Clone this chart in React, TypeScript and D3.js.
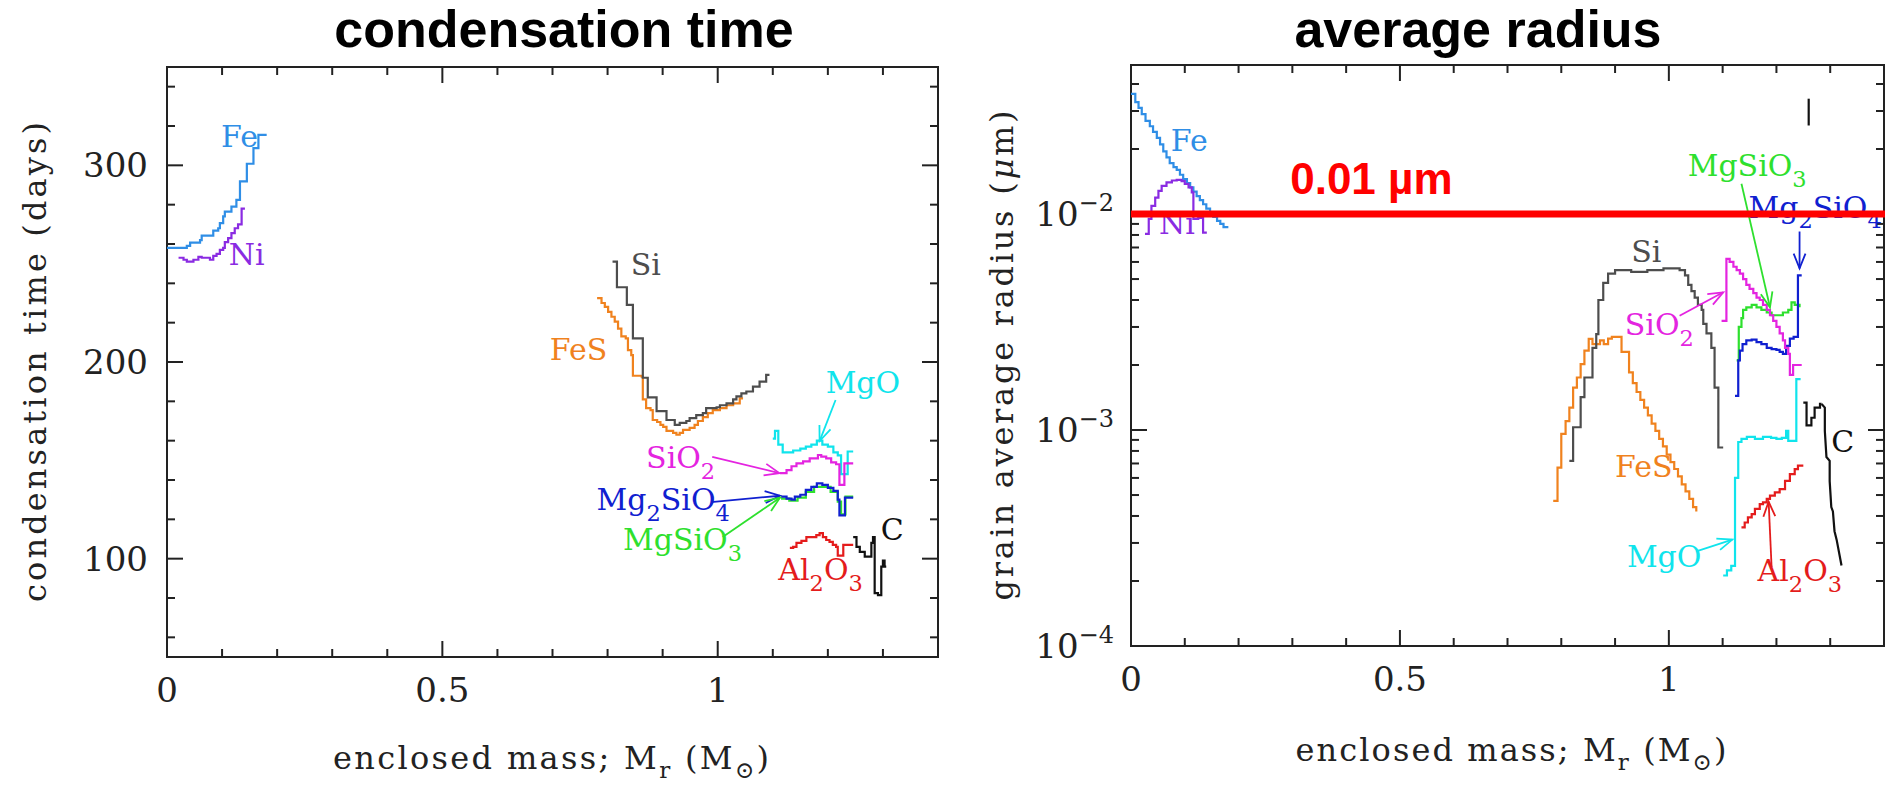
import React, { useEffect } from "react";
import * as d3 from "d3";

const W = 1885;
const H = 786;

// ---------- axes ----------
const massDomain = [0, 1.4];
const timeDomain = [50, 350];
const radiusDomain = [1e-4, 0.04898];
const massTicks = d3.range(0, 15).map((i) => i / 10);
const massMajor = [0, 0.5, 1];
const massTickLabels = ["0", "0.5", "1"];
const timeTicks = d3.range(60, 341, 20);
const timeMajor = [100, 200, 300];
const timeTickLabels = ["100", "200", "300"];
const radiusMajor = [1e-4, 1e-3, 1e-2];
const radiusExpLabels = ["\u22124", "\u22123", "\u22122"];

// ---------- condensation time (days) vs enclosed mass (Msun) ----------
const feTimeM = [0, 0.036, 0.042, 0.06, 0.063, 0.084, 0.093, 0.096, 0.102, 0.105, 0.117, 0.126, 0.1325, 0.145, 0.157, 0.166, 0.181];
const feTimeDays = [258, 259, 260.7, 262, 264.3, 266.8, 268, 270.6, 274, 276.5, 279, 282.4, 291.8, 300.8, 308.7, 315.5, 315.5];
const niTimeM = [0.021, 0.03, 0.036, 0.048, 0.057, 0.063, 0.078, 0.084, 0.09, 0.096, 0.102, 0.105, 0.111, 0.117, 0.123, 0.129, 0.1355, 0.1415];
const niTimeDays = [253, 252, 251, 252, 253.5, 253, 252, 254, 255, 257, 258, 261, 263, 265.5, 268, 270, 278, 278];
const siTimeM = [0.809, 0.817, 0.835, 0.846, 0.864, 0.873, 0.889, 0.907, 0.922, 0.931, 0.943, 0.949, 0.961, 0.973, 0.979, 0.998, 1.004, 1.016, 1.028, 1.034, 1.043, 1.052, 1.064, 1.076, 1.088, 1.094];
const siTimeDays = [251, 238, 229, 212, 192, 182, 175, 170.5, 168, 169, 170, 171.5, 173, 174, 176.5, 177, 178, 179, 181, 182.5, 184, 185, 187.5, 190, 193.5, 193.5];
const fesTimeM = [0.781, 0.789, 0.795, 0.801, 0.807, 0.813, 0.819, 0.825, 0.833, 0.837, 0.843, 0.846, 0.862, 0.864, 0.87, 0.878, 0.882, 0.89, 0.896, 0.901, 0.907, 0.919, 0.925, 0.931, 0.937, 0.949, 0.958, 0.964, 0.973, 0.982, 0.991, 1.004, 1.016, 1.028, 1.04, 1.046];
const fesTimeDays = [232.5, 230, 228, 225.5, 223, 220.5, 217, 213, 212, 206, 203.5, 193, 192.5, 181, 176.5, 175.5, 170.5, 169.5, 168, 167, 165, 164, 163, 164, 165.5, 166.5, 168, 170, 172, 174, 175.5, 176.5, 178, 179, 181.5, 181.5];
const mgoTimeM = [1.1, 1.104, 1.11, 1.118, 1.137, 1.15, 1.16, 1.17, 1.18, 1.19, 1.2, 1.21, 1.218, 1.224, 1.232, 1.236, 1.246];
const mgoTimeDays = [161, 165, 158, 154, 155, 156, 157, 158, 160, 158, 157, 154, 152.5, 143, 143, 154.5, 154.5];
const sio2TimeM = [1.113, 1.125, 1.134, 1.143, 1.155, 1.167, 1.182, 1.188, 1.197, 1.206, 1.215, 1.221, 1.23, 1.246];
const sio2TimeDays = [143.5, 145, 147, 148.5, 149.5, 151, 152.7, 151.9, 151, 149, 148, 137.5, 148.5, 148.5];
const mgsio3TimeM = [1.115, 1.13, 1.145, 1.16, 1.175, 1.19, 1.205, 1.218, 1.224, 1.232, 1.246];
const mgsio3TimeDays = [130.5, 129.5, 131, 134, 136.5, 136.5, 134, 129, 122.5, 131.5, 131.5];
const mg2sio4TimeM = [1.115, 1.125, 1.134, 1.14, 1.15, 1.16, 1.17, 1.18, 1.19, 1.2, 1.21, 1.218, 1.221, 1.231, 1.246];
const mg2sio4TimeDays = [131.5, 130.5, 130, 131.5, 132.5, 135, 136.5, 138.3, 137.5, 136, 134.5, 130, 122, 131, 131];
const al2o3TimeM = [1.131, 1.137, 1.143, 1.152, 1.161, 1.173, 1.179, 1.185, 1.191, 1.197, 1.203, 1.209, 1.215, 1.218, 1.228, 1.246];
const al2o3TimeDays = [105.5, 106, 108, 109, 111, 111, 112, 113, 111, 109.5, 108.5, 107, 106, 101.5, 107, 107];
const cTimeM = [1.246, 1.252, 1.258, 1.267, 1.279, 1.282, 1.285, 1.291, 1.297, 1.3, 1.303, 1.306];
const cTimeDays = [111, 106, 103.5, 101, 108, 111, 82.5, 81.5, 96, 99, 96, 96];

// ---------- grain average radius (micron) vs enclosed mass ----------
const feRadM = [0, 0.008, 0.014, 0.02, 0.027, 0.035, 0.041, 0.048, 0.054, 0.06, 0.066, 0.072, 0.079, 0.085, 0.091, 0.097, 0.104, 0.11, 0.116, 0.122, 0.128, 0.134, 0.14, 0.147, 0.153, 0.16, 0.166, 0.172, 0.181];
const feRadUm = [0.036, 0.033, 0.031, 0.029, 0.027, 0.0255, 0.024, 0.0225, 0.021, 0.0195, 0.0183, 0.0172, 0.0165, 0.016, 0.0152, 0.0145, 0.0139, 0.0133, 0.0127, 0.0121, 0.0116, 0.0111, 0.0106, 0.0101, 0.0097, 0.0093, 0.009, 0.0087, 0.0087];
const niRadM = [0.026, 0.033, 0.038, 0.045, 0.051, 0.057, 0.066, 0.076, 0.085, 0.094, 0.1, 0.107, 0.113, 0.116, 0.125, 0.134, 0.141];
const niRadUm = [0.0081, 0.0095, 0.0109, 0.0119, 0.0128, 0.0135, 0.014, 0.0143, 0.0144, 0.0142, 0.0138, 0.0133, 0.0126, 0.0095, 0.0096, 0.0082, 0.0082];
const siRadM = [0.815, 0.822, 0.836, 0.843, 0.858, 0.865, 0.869, 0.878, 0.887, 0.9, 0.93, 0.96, 0.99, 1.02, 1.03, 1.036, 1.042, 1.048, 1.054, 1.061, 1.064, 1.07, 1.079, 1.085, 1.092, 1.101];
const siRadUm = [0.00072, 0.00103, 0.00142, 0.00175, 0.0024, 0.00278, 0.004, 0.0048, 0.0053, 0.0055, 0.0054, 0.0055, 0.0056, 0.0055, 0.0052, 0.0047, 0.0044, 0.0041, 0.0038, 0.0036, 0.0031, 0.0028, 0.0024, 0.00157, 0.00083, 0.00083];
const fesRadM = [0.785, 0.793, 0.8, 0.808, 0.815, 0.822, 0.829, 0.836, 0.843, 0.851, 0.858, 0.866, 0.872, 0.879, 0.887, 0.894, 0.912, 0.926, 0.933, 0.94, 0.947, 0.954, 0.961, 0.968, 0.975, 0.982, 0.989, 0.996, 1.003, 1.01, 1.017, 1.024, 1.031, 1.038, 1.045, 1.051];
const fesRadUm = [0.00047, 0.00067, 0.00096, 0.0011, 0.00127, 0.00157, 0.00175, 0.00202, 0.00233, 0.00264, 0.0025, 0.0025, 0.0026, 0.0025, 0.00265, 0.0027, 0.0023, 0.00185, 0.00165, 0.0015, 0.00138, 0.00127, 0.00117, 0.00107, 0.00099, 0.00091, 0.00084, 0.00077, 0.00071, 0.00066, 0.00061, 0.00056, 0.00052, 0.00048, 0.00044, 0.00042];
const sio2RadM = [1.098, 1.107, 1.113, 1.12, 1.126, 1.132, 1.138, 1.144, 1.15, 1.157, 1.163, 1.169, 1.175, 1.182, 1.188, 1.194, 1.2, 1.206, 1.212, 1.216, 1.222, 1.225, 1.231, 1.247];
const sio2RadUm = [0.0032, 0.0062, 0.006, 0.0057, 0.0055, 0.0053, 0.005, 0.0047, 0.0045, 0.0043, 0.0041, 0.004, 0.0038, 0.0036, 0.0034, 0.0032, 0.003, 0.0028, 0.0026, 0.0024, 0.00225, 0.0018, 0.002, 0.002];
const mgsio3RadM = [1.126, 1.13, 1.135, 1.138, 1.144, 1.154, 1.163, 1.172, 1.182, 1.191, 1.2, 1.212, 1.222, 1.228, 1.234, 1.243];
const mgsio3RadUm = [0.0021, 0.003, 0.0033, 0.0036, 0.0037, 0.0038, 0.0037, 0.0036, 0.0035, 0.0034, 0.0034, 0.0035, 0.0036, 0.0039, 0.0038, 0.0037];
const mg2sio4RadM = [1.123, 1.129, 1.132, 1.137, 1.144, 1.154, 1.163, 1.172, 1.182, 1.191, 1.2, 1.206, 1.212, 1.218, 1.225, 1.232, 1.24, 1.247];
const mg2sio4RadUm = [0.00144, 0.0021, 0.00233, 0.0025, 0.0026, 0.00262, 0.00255, 0.0025, 0.0024, 0.00237, 0.00235, 0.0023, 0.00225, 0.00245, 0.00265, 0.0027, 0.0052, 0.0052];
const mgoRadM = [1.101, 1.108, 1.116, 1.123, 1.129, 1.135, 1.145, 1.16, 1.175, 1.19, 1.2, 1.21, 1.218, 1.222, 1.237, 1.245];
const mgoRadUm = [0.000212, 0.000224, 0.000235, 0.0006, 0.00088, 0.00091, 0.00093, 0.00091, 0.00093, 0.00092, 0.00091, 0.00092, 0.00099, 0.00089, 0.00172, 0.00172];
const al2o3RadM = [1.135, 1.141, 1.147, 1.154, 1.16, 1.169, 1.175, 1.182, 1.188, 1.197, 1.206, 1.216, 1.225, 1.234, 1.24, 1.25];
const al2o3RadUm = [0.000354, 0.000373, 0.000394, 0.000408, 0.000431, 0.000454, 0.000462, 0.00048, 0.000497, 0.000514, 0.000533, 0.000582, 0.000625, 0.000659, 0.000684, 0.000684];
const cRadStepM = [1.25, 1.256, 1.265, 1.271, 1.281, 1.284];
const cRadStepUm = [0.00134, 0.00105, 0.00114, 0.00127, 0.00132, 0.00132];
const cRadTailM = [1.284, 1.29, 1.29, 1.293, 1.299, 1.299, 1.302, 1.305, 1.308, 1.312, 1.321];
const cRadTailUm = [0.00132, 0.00127, 0.00099, 0.00075, 0.00072, 0.00058, 0.00044, 0.00042, 0.00034, 0.00031, 0.000236];
const stray = { m: [1.26, 1.26], r: [0.0342, 0.0257] };
const thresholdUm = 0.01;

// ---------- colours ----------
const C_FE = "#2f8ee6";
const C_NI = "#8a2be2";
const C_SI = "#4d4d4d";
const C_FES = "#f0821e";
const C_MGO = "#10e4ec";
const C_SIO2 = "#e424e0";
const C_MG2SIO4 = "#1020d0";
const C_MGSIO3 = "#2ee02e";
const C_AL2O3 = "#e41c1c";
const C_C = "#111111";

// ---------- labels & arrows ----------
const leftLabels = [
  { t: "Fe", m: 0.098, v: 309.4, c: C_FE },
  { t: "Ni", m: 0.112, v: 249.4, c: C_NI },
  { t: "Si", m: 0.842, v: 244.3, c: C_SI },
  { t: "FeS", m: 0.695, v: 201, c: C_FES },
  { t: "MgO", m: 1.196, v: 184.3, c: C_MGO },
  { t: "SiO_2", m: 0.87, v: 146, c: C_SIO2 },
  { t: "Mg_2SiO_4", m: 0.78, v: 124.8, c: C_MG2SIO4 },
  { t: "MgSiO_3", m: 0.828, v: 104.4, c: C_MGSIO3 },
  { t: "Al_2O_3", m: 1.11, v: 89.2, c: C_AL2O3 },
  { t: "C", m: 1.296, v: 109.5, c: C_C },
];
const leftArrows = [
  { from: [1.214, 180.7], to: [1.185, 159.8], c: C_MGO },
  { from: [0.99, 151.7], to: [1.112, 143.5], c: C_SIO2 },
  { from: [0.988, 128.8], to: [1.113, 132], c: C_MG2SIO4 },
  { from: [1.009, 111], to: [1.113, 131], c: C_MGSIO3 },
];
const rightLabels = [
  { t: "Fe", m: 0.074, v: 0.0196, c: C_FE },
  { t: "Ni", m: 0.052, v: 0.0081, c: C_NI },
  { t: "Si", m: 0.93, v: 0.00601, c: C_SI },
  { t: "MgSiO_3", m: 1.035, v: 0.01503, c: C_MGSIO3 },
  { t: "Mg_2SiO_4", m: 1.148, v: 0.00962, c: C_MG2SIO4 },
  { t: "SiO_2", m: 0.918, v: 0.00274, c: C_SIO2 },
  { t: "FeS", m: 0.9, v: 0.000608, c: C_FES },
  { t: "MgO", m: 0.922, v: 0.000233, c: C_MGO },
  { t: "Al_2O_3", m: 1.165, v: 0.0002, c: C_AL2O3 },
  { t: "C", m: 1.302, v: 0.000794, c: C_C },
];
const rightArrows = [
  { from: [1.02, 0.00338], to: [1.101, 0.00434], c: C_SIO2 },
  { from: [1.135, 0.0138], to: [1.188, 0.0037], c: C_MGSIO3 },
  { from: [1.243, 0.0083], to: [1.243, 0.0056], c: C_MG2SIO4 },
  { from: [1.051, 0.000274], to: [1.118, 0.000311], c: C_MGO },
  { from: [1.191, 0.000232], to: [1.1855, 0.000466], c: C_AL2O3 },
];

// ---------- layout ----------
const LP = { left: 167, right: 938, top: 67, bottom: 657 };
const RP = { left: 1131, right: 1884, top: 65, bottom: 646 };

const xL = d3.scaleLinear().domain(massDomain).range([LP.left, LP.right]);
const yL = d3.scaleLinear().domain(timeDomain).range([LP.bottom, LP.top]);
const xR = d3.scaleLinear().domain(massDomain).range([RP.left, RP.right]);
const yR = d3.scaleLog().domain(radiusDomain).range([RP.bottom, RP.top]);

const SERIF = "'DejaVu Serif', 'Liberation Serif', serif";
const SANS = "'Liberation Sans', Arial, sans-serif";
const AXIS = "#222";
const TICKFS = 34;
const AXFS = 32;
const LF = 30;

function pathOf(xs: number[], ys: number[], xs_: any, ys_: any, curve: any = d3.curveStepAfter) {
  const pts = xs.map((x, i) => [x, ys[i]] as [number, number]);
  return d3
    .line<[number, number]>()
    .x((d) => xs_(d[0]))
    .y((d) => ys_(d[1]))
    .curve(curve)(pts) as string;
}

function chem(text: string, fs: number) {
  const tokens = text.split(/(_.)/).filter((t) => t.length);
  let prevSub = false;
  const off = fs * 0.36;
  return tokens.map((t, i) => {
    const sub = t.startsWith("_");
    const content = sub ? t.slice(1) : t;
    let dy = 0;
    if (sub && !prevSub) dy = off;
    if (!sub && prevSub) dy = -off;
    prevSub = sub;
    return (
      <tspan key={i} dy={dy} fontSize={sub ? fs * 0.75 : fs}>
        {content}
      </tspan>
    );
  });
}

function Arrow({ x1, y1, x2, y2, c }: any) {
  const ang = Math.atan2(y2 - y1, x2 - x1);
  const len = 16;
  const a = 0.38;
  const h1 = [x2 - len * Math.cos(ang - a), y2 - len * Math.sin(ang - a)];
  const h2 = [x2 - len * Math.cos(ang + a), y2 - len * Math.sin(ang + a)];
  return (
    <g stroke={c} strokeWidth={1.8} fill="none">
      <line x1={x1} y1={y1} x2={x2} y2={y2} />
      <polyline points={`${h1[0]},${h1[1]} ${x2},${y2} ${h2[0]},${h2[1]}`} />
    </g>
  );
}

function Frame({ P, xS, yTicks, yS, yMajor }: any) {
  const els: any[] = [];
  massTicks.forEach((t, i) => {
    const major = massMajor.some((m) => Math.abs(m - t) < 1e-9);
    const L = major ? 16 : 8;
    const x = xS(t);
    els.push(<line key={"xb" + i} x1={x} x2={x} y1={P.bottom} y2={P.bottom - L} />);
    els.push(<line key={"xt" + i} x1={x} x2={x} y1={P.top} y2={P.top + L} />);
  });
  yTicks.forEach((t: number, i: number) => {
    const major = yMajor.some((m: number) => Math.abs(m - t) / m < 1e-6);
    const L = major ? 16 : 8;
    const y = yS(t);
    els.push(<line key={"yl" + i} x1={P.left} x2={P.left + L} y1={y} y2={y} />);
    els.push(<line key={"yr" + i} x1={P.right} x2={P.right - L} y1={y} y2={y} />);
  });
  return (
    <g stroke={AXIS} strokeWidth={2}>
      <rect x={P.left} y={P.top} width={P.right - P.left} height={P.bottom - P.top} fill="none" />
      {els}
    </g>
  );
}

function MassLabel({ x, y, len }: any) {
  return (
    <text x={x} y={y} textAnchor="middle" textLength={len} lengthAdjust="spacing">
      <tspan>enclosed mass; M</tspan>
      <tspan dy={9} fontSize={AXFS * 0.72}>r</tspan>
      <tspan dy={-9}> (M</tspan>
      <tspan dy={9} fontSize={AXFS * 0.72}>{"\u2299"}</tspan>
      <tspan dy={-9}>)</tspan>
    </text>
  );
}

export default function App() {
  useEffect(() => {
    document.body.style.margin = "0";
    document.body.style.overflow = "hidden";
  }, []);

  const radiusTicks: number[] = [];
  [-4, -3, -2].forEach((k) => {
    for (let j = 1; j <= 9; j++) {
      const v = j * Math.pow(10, k);
      if (v <= radiusDomain[1]) radiusTicks.push(v);
    }
  });

  const leftSeries = [
    { m: fesTimeM, v: fesTimeDays, c: C_FES },
    { m: siTimeM, v: siTimeDays, c: C_SI },
    { m: niTimeM, v: niTimeDays, c: C_NI },
    { m: feTimeM, v: feTimeDays, c: C_FE },
    { m: mgoTimeM, v: mgoTimeDays, c: C_MGO },
    { m: sio2TimeM, v: sio2TimeDays, c: C_SIO2 },
    { m: mgsio3TimeM, v: mgsio3TimeDays, c: C_MGSIO3 },
    { m: mg2sio4TimeM, v: mg2sio4TimeDays, c: C_MG2SIO4 },
    { m: al2o3TimeM, v: al2o3TimeDays, c: C_AL2O3 },
    { m: cTimeM, v: cTimeDays, c: C_C },
  ];
  const rightSeries = [
    { m: feRadM, v: feRadUm, c: C_FE },
    { m: niRadM, v: niRadUm, c: C_NI },
    { m: fesRadM, v: fesRadUm, c: C_FES },
    { m: siRadM, v: siRadUm, c: C_SI },
    { m: mgoRadM, v: mgoRadUm, c: C_MGO },
    { m: al2o3RadM, v: al2o3RadUm, c: C_AL2O3 },
    { m: mgsio3RadM, v: mgsio3RadUm, c: C_MGSIO3 },
    { m: mg2sio4RadM, v: mg2sio4RadUm, c: C_MG2SIO4 },
    { m: sio2RadM, v: sio2RadUm, c: C_SIO2 },
    { m: cRadStepM, v: cRadStepUm, c: C_C },
  ];

  return (
    <svg
      width={W}
      height={H}
      viewBox={`0 0 ${W} ${H}`}
      style={{ position: "absolute", left: 0, top: 0, display: "block", background: "#fff" }}
    >
      <rect x={0} y={0} width={W} height={H} fill="#fff" />

      {/* titles */}
      <text x={564} y={47} fontFamily={SANS} fontWeight="bold" fontSize={52} textAnchor="middle" fill="#000">
        condensation time
      </text>
      <text x={1478} y={47} fontFamily={SANS} fontWeight="bold" fontSize={52} textAnchor="middle" fill="#000">
        average radius
      </text>

      {/* ---------- left panel ---------- */}
      <Frame P={LP} xS={xL} yTicks={timeTicks} yS={yL} yMajor={timeMajor} />
      <g fontFamily={SERIF} fontSize={TICKFS} fill={AXIS}>
        {massMajor.map((t, i) => (
          <text key={i} x={xL(t)} y={LP.bottom + 45} textAnchor="middle">
            {massTickLabels[i]}
          </text>
        ))}
        {timeMajor.map((t, i) => (
          <text key={i} x={LP.left - 19} y={yL(t) + 12} textAnchor="end">
            {timeTickLabels[i]}
          </text>
        ))}
      </g>
      <g fontFamily={SERIF} fontSize={AXFS} fill={AXIS}>
        <text
          transform={`translate(46, ${(LP.top + LP.bottom) / 2}) rotate(-90)`}
          textAnchor="middle"
          textLength={480}
          lengthAdjust="spacing"
        >
          condensation time (days)
        </text>
        <MassLabel x={551} y={769} len={436} />
      </g>
      <g fill="none" strokeWidth={2.2} strokeLinejoin="miter">
        {leftSeries.map((s, i) => (
          <path key={i} d={pathOf(s.m, s.v, xL, yL)} stroke={s.c} />
        ))}
      </g>
      {leftArrows.map((a, i) => (
        <Arrow key={i} x1={xL(a.from[0])} y1={yL(a.from[1])} x2={xL(a.to[0])} y2={yL(a.to[1])} c={a.c} />
      ))}
      <g fontFamily={SERIF} fontSize={LF}>
        {leftLabels.map((l, i) => (
          <text key={i} x={xL(l.m)} y={yL(l.v)} fill={l.c}>
            {chem(l.t, LF)}
          </text>
        ))}
      </g>

      {/* ---------- right panel ---------- */}
      <Frame P={RP} xS={xR} yTicks={radiusTicks} yS={yR} yMajor={radiusMajor} />
      <g fontFamily={SERIF} fontSize={TICKFS} fill={AXIS}>
        {massMajor.map((t, i) => (
          <text key={i} x={xR(t)} y={RP.bottom + 45} textAnchor="middle">
            {massTickLabels[i]}
          </text>
        ))}
        {radiusMajor.map((t, i) => (
          <text key={i} x={RP.left - 17} y={yR(t) + 12} textAnchor="end">
            10
            <tspan dy={-15} fontSize={24}>
              {radiusExpLabels[i]}
            </tspan>
          </text>
        ))}
      </g>
      <g fontFamily={SERIF} fontSize={AXFS} fill={AXIS}>
        <text
          transform={`translate(1013, ${(RP.top + RP.bottom) / 2}) rotate(-90)`}
          textAnchor="middle"
          textLength={490}
          lengthAdjust="spacing"
        >
          grain average radius (<tspan fontStyle="italic">{"\u03bc"}</tspan>m)
        </text>
        <MassLabel x={1511} y={761} len={431} />
      </g>
      <g fill="none" strokeWidth={2.2} strokeLinejoin="miter">
        {rightSeries.map((s, i) => (
          <path key={i} d={pathOf(s.m, s.v, xR, yR)} stroke={s.c} />
        ))}
        <path d={pathOf(cRadTailM, cRadTailUm, xR, yR, d3.curveLinear)} stroke={C_C} />
        <path d={pathOf(stray.m, stray.r, xR, yR, d3.curveLinear)} stroke={C_C} />
      </g>
      {rightArrows.map((a, i) => (
        <Arrow key={i} x1={xR(a.from[0])} y1={yR(a.from[1])} x2={xR(a.to[0])} y2={yR(a.to[1])} c={a.c} />
      ))}
      <g fontFamily={SERIF} fontSize={LF}>
        {rightLabels.map((l, i) => (
          <text key={i} x={xR(l.m)} y={yR(l.v)} fill={l.c}>
            {chem(l.t, LF)}
          </text>
        ))}
      </g>

      {/* 0.01 micron threshold */}
      <line
        x1={RP.left}
        x2={RP.right + 2}
        y1={yR(thresholdUm)}
        y2={yR(thresholdUm)}
        stroke="#ff0000"
        strokeWidth={7}
      />
      <text x={xR(0.296)} y={yR(0.0124)} fontFamily={SANS} fontWeight="bold" fontSize={44} fill="#ff0000">
        0.01 µm
      </text>
    </svg>
  );
}
